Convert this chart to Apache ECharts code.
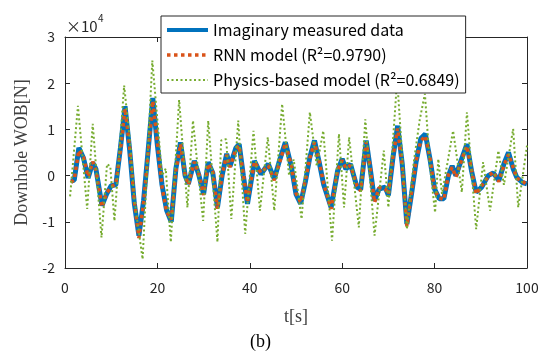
<!DOCTYPE html>
<html>
<head>
<meta charset="utf-8">
<script src="https://cdn.jsdelivr.net/npm/echarts@6/dist/echarts.min.js"></script>
<style>
  html, body { margin: 0; padding: 0; background: #fff; }
  #main { width: 544px; height: 351px; }
</style>
</head>
<body>
<div id="main"></div>
<script>
// values in units of 10^4 N, time in s
const measured = [
  [1.3,-0.12],[2,-0.1],[3,0.6],[4,0.38],[5,-0.05],[6,0.28],[6.7,0.14],[8,-0.65],[9,-0.4],[10,-0.22],
  [11,-0.2],[12,0.6],[13,1.5],[14,0.55],[15,-0.6],[16,-1.3],[17,-0.55],[18,0.55],[19,1.68],[20,0.65],
  [21,-0.2],[22,-0.75],[23,-1.0],[24,0.15],[25,0.72],[26,0.0],[26.7,-0.18],[28,0.32],[29,0.0],[30,-0.4],
  [31,0.29],[32,0.05],[33,-0.69],[34,0.0],[35,0.47],[35.7,0.2],[37,0.6],[37.7,0.68],[38.6,0.0],[39.5,-0.61],
  [41,0.32],[42.4,0.03],[44,0.25],[45.3,-0.07],[46.5,0.35],[47.7,0.72],[49,0.19],[50,-0.4],[51,-0.61],[52,-0.15],
  [53,0.4],[54,0.76],[55,0.3],[56,-0.2],[57.6,-0.69],[59,0.1],[60,0.36],[60.8,0.14],[61.8,0.25],[63.2,-0.25],
  [64,-0.3],[65.2,0.76],[66,0.2],[67,-0.54],[68,-0.29],[69.3,-0.25],[70,-0.43],[71,0.4],[72,1.08],[73,0.25],
  [74,-1.05],[75,-0.4],[76,0.3],[77,0.8],[78,0.9],[79,0.36],[80,-0.29],[81,-0.5],[82,-0.5],[83,0.0],
  [83.8,0.21],[84.6,0.0],[86,0.4],[87,0.68],[88,0.1],[89,-0.36],[90.2,-0.25],[91.6,0.0],[92.7,0.06],[93.9,-0.11],
  [95,0.25],[96,0.5],[97,0.15],[97.8,-0.04],[99,-0.15],[100,-0.18]
];
const rnn = [
  [1.3,-0.15],[2,-0.08],[3,0.55],[4,0.4],[5,-0.02],[6,0.3],[6.7,0.12],[8,-0.68],[9,-0.38],[10,-0.24],
  [11,-0.18],[12,0.55],[13,1.45],[14,0.6],[15,-0.55],[16,-1.35],[17,-0.6],[18,0.5],[19,1.62],[20,0.72],
  [21,-0.25],[22,-0.78],[23,-0.95],[24,0.1],[25,0.68],[26,0.02],[26.7,-0.2],[28,0.3],[29,0.02],[30,-0.42],
  [31,0.26],[32,0.08],[33,-0.72],[34,0.02],[35,0.45],[35.7,0.18],[37,0.58],[37.7,0.65],[38.6,0.02],[39.5,-0.58],
  [41,0.3],[42.4,0.06],[44,0.22],[45.3,-0.1],[46.5,0.3],[47.7,0.7],[49,0.22],[50,-0.38],[51,-0.58],[52,-0.12],
  [53,0.38],[54,0.72],[55,0.32],[56,-0.18],[57.6,-0.72],[59,0.12],[60,0.33],[60.8,0.16],[61.8,0.22],[63.2,-0.22],
  [64,-0.33],[65.2,0.72],[66,0.22],[67,-0.58],[68,-0.26],[69.3,-0.28],[70,-0.4],[71,0.42],[72,1.02],[73,0.22],
  [74,-1.1],[75,-0.38],[76,0.32],[77,0.75],[78,0.86],[79,0.38],[80,-0.32],[81,-0.48],[82,-0.52],[83,0.02],
  [83.8,0.18],[84.6,-0.03],[86,0.38],[87,0.64],[88,0.12],[89,-0.4],[90.2,-0.22],[91.6,-0.02],[92.7,0.08],[93.9,-0.13],
  [95,0.22],[96,0.46],[97,0.18],[97.8,-0.06],[99,-0.12],[100,-0.2]
];
const physics = [
  [1.1,-0.45],[2.8,1.51],[4.8,-0.72],[6,1.12],[7.9,-1.34],[9.1,0.25],[9.8,0.2],[10.7,-0.98],[12.8,1.95],[14,0.8],
  [15,-0.5],[16.8,-1.81],[18.9,2.49],[20,1.2],[21,0.0],[21.8,0.15],[22.9,-1.44],[24.7,1.64],[26.5,-0.69],[27.7,1.19],
  [29.9,-0.98],[31,1.19],[33,-1.44],[33.8,0.76],[34.9,0.79],[36,-0.94],[37.5,1.19],[39,-1.26],[40.8,0.97],[42.2,-0.76],
  [43.9,0.83],[45.3,-0.76],[47,1.55],[48.5,0.0],[49.5,0.35],[51.2,-0.94],[53,1.37],[54.5,0.2],[55.9,0.97],[57.8,-1.41],
  [59.3,0.9],[60.4,-0.69],[61.5,0.83],[63.6,-1.12],[65,1.22],[67,-1.3],[69,0.54],[70,-0.69],[71.9,2.09],[74,-1.16],
  [75.5,0.3],[76.8,1.22],[77.9,1.77],[79,0.2],[80.1,-0.8],[80.8,0.36],[81.6,-0.4],[84,0.97],[85.9,-0.36],[87,1.37],
  [89,-1.16],[90.5,0.29],[92,-0.76],[93.8,0.54],[95,-0.2],[97,1.01],[98.1,-0.69],[100,0.65]
];
const seriesNames = [
  'Imaginary measured data',
  'RNN model (R²=0.9790)',
  'Physics-based model (R²=0.6849)'
];
const xTicks = [0, 20, 40, 60, 80, 100];
const yTicks = [-2, -1, 0, 1, 2, 3];

const colors = ['#0072BD', '#D95319', '#77AC30'];
const tickColor = '#262626';
const chart = echarts.init(document.getElementById('main'));

chart.setOption({
  animation: false,
  grid: { left: 65, right: 17, top: 37, bottom: 83 },
  legend: {
    orient: 'vertical',
    left: 161,
    top: 16,
    padding: [6, 6, 5, 4],
    itemGap: 9,
    itemWidth: 41,
    itemHeight: 14,
    backgroundColor: '#fff',
    borderColor: '#262626',
    borderWidth: 1,
    borderRadius: 0,
    itemStyle: { opacity: 0 },
    textStyle: { fontFamily: 'Noto Sans CJK JP', fontSize: 16, color: '#000' },
    data: [
      { name: seriesNames[0], lineStyle: { width: 4, color: colors[0] } },
      { name: seriesNames[1], lineStyle: { width: 3.5, color: colors[1], type: [3.5, 3.5] } },
      { name: seriesNames[2], lineStyle: { width: 2, color: colors[2], type: [2, 2.5] } }
    ]
  },
  xAxis: [{
    type: 'value',
    min: xTicks[0], max: xTicks[xTicks.length - 1], interval: 20,
    name: 't[s]',
    nameLocation: 'middle',
    nameGap: 40,
    nameTextStyle: { fontFamily: 'Liberation Serif', fontSize: 18, color: '#404040' },
    axisLine: { onZero: false, lineStyle: { color: tickColor } },
    axisTick: { inside: true, length: 5, lineStyle: { color: tickColor } },
    axisLabel: { margin: 13, fontFamily: 'Noto Sans CJK JP', fontSize: 14, color: tickColor },
    splitLine: { show: false }
  }, {
    type: 'value', position: 'top',
    min: 0, max: 100, interval: 20,
    axisLine: { show: true, onZero: false, lineStyle: { color: tickColor } },
    axisTick: { inside: true, length: 5, lineStyle: { color: tickColor } },
    axisLabel: { show: false },
    splitLine: { show: false }
  }],
  yAxis: [{
    type: 'value',
    min: yTicks[0], max: yTicks[yTicks.length - 1], interval: 1,
    name: 'Downhole WOB[N]',
    nameLocation: 'middle',
    nameGap: 33,
    nameTextStyle: { fontFamily: 'Liberation Serif', fontSize: 18, color: '#404040' },
    axisLine: { show: true, onZero: false, lineStyle: { color: tickColor } },
    axisTick: { show: true, inside: true, length: 5, lineStyle: { color: tickColor } },
    axisLabel: { margin: 10, fontFamily: 'Noto Sans CJK JP', fontSize: 14, color: tickColor },
    splitLine: { show: false }
  }, {
    type: 'value', position: 'right',
    min: -2, max: 3, interval: 1,
    axisLine: { show: true, onZero: false, lineStyle: { color: tickColor } },
    axisTick: { show: true, inside: true, length: 5, lineStyle: { color: tickColor } },
    axisLabel: { show: false },
    splitLine: { show: false }
  }],
  series: [{
    name: seriesNames[0],
    type: 'line',
    data: measured,
    showSymbol: false,
    symbol: 'none',
    lineStyle: { color: colors[0], width: 5 },
    itemStyle: { color: colors[0] }
  }, {
    name: seriesNames[1],
    type: 'line',
    data: rnn,
    showSymbol: false,
    symbol: 'none',
    lineStyle: { color: colors[1], width: 3.5, type: [3.5, 3.5] },
    itemStyle: { color: colors[1] }
  }, {
    name: seriesNames[2],
    type: 'line',
    data: physics,
    showSymbol: false,
    symbol: 'none',
    lineStyle: { color: colors[2], width: 2, type: [2, 2.5] },
    itemStyle: { color: colors[2] }
  }],
  graphic: [
    { type: 'text', left: 66, top: 19, style: { text: '×10', fontFamily: 'Noto Sans CJK JP', fontSize: 15, fill: tickColor } },
    { type: 'text', left: 98, top: 13, style: { text: '4', fontFamily: 'Noto Sans CJK JP', fontSize: 10, fill: tickColor } },
    { type: 'text', left: 250, top: 333, style: { text: '(b)', fontFamily: 'Liberation Serif', fontSize: 18, fill: '#000' } }
  ]
});
</script>
</body>
</html>
